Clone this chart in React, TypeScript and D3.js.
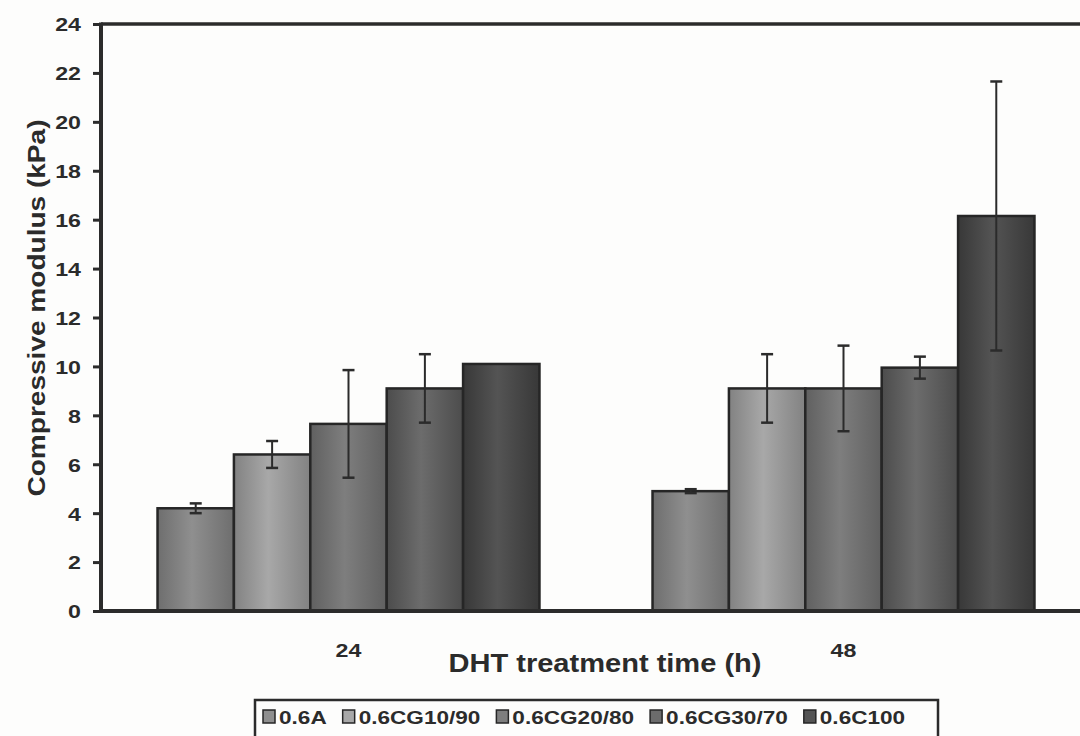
import { useEffect, useRef } from 'react';
import * as d3 from 'd3';

const categories = ['24', '48'];
const seriesNames = ['0.6A', '0.6CG10/90', '0.6CG20/80', '0.6CG30/70', '0.6C100'];
const values24 = [4.2, 6.4, 7.65, 9.1, 10.1];
const values48 = [4.9, 9.1, 9.1, 9.95, 16.15];
const errors24 = [0.2, 0.55, 2.2, 1.4, 0];
const errors48 = [0.08, 1.4, 1.75, 0.45, 5.5];
const yTicks = [0, 2, 4, 6, 8, 10, 12, 14, 16, 18, 20, 22, 24];
const edgeColors = ['#6e6e6e', '#828282', '#606060', '#4c4c4c', '#383838'];
const midColors = ['#8f8f8f', '#a8a8a8', '#7e7e7e', '#6c6c6c', '#545454'];

const FONT = '"Liberation Sans", Arial, sans-serif';
const INK = '#2b2b2b';

// the scanned figure's lettering is wider than Arial, stretch along the baseline
function widen(sel: any, factor: number) {
  sel.each(function (this: SVGTextElement) {
    const len = this.getComputedTextLength();
    d3.select(this).attr('textLength', len * factor).attr('lengthAdjust', 'spacingAndGlyphs');
  });
}

export default function App() {
  const svgRef = useRef<SVGSVGElement>(null);

  useEffect(() => {
    if (!svgRef.current) return;
    const svg = d3.select(svgRef.current);
    svg.selectAll('*').remove();

    const left = 101, top = 24, bottom = 611, right = 1091;

    const y = d3.scaleLinear().domain([0, 24]).range([bottom, top]);
    const x0 = d3.scaleBand().domain(categories).range([left, right]).padding(0);
    const x1 = d3.scaleBand().domain(seriesNames).range([0, x0.bandwidth()])
      .paddingInner(0).paddingOuter(0.74);

    const rows = categories.map((c, i) => ({
      cat: c,
      values: i === 0 ? values24 : values48,
      errors: i === 0 ? errors24 : errors48,
    }));

    const defs = svg.append('defs');
    seriesNames.forEach((s, i) => {
      const g = defs.append('linearGradient')
        .attr('id', `grad${i}`)
        .attr('x1', 0).attr('x2', 1).attr('y1', 0).attr('y2', 0);
      g.append('stop').attr('offset', '0%').attr('stop-color', edgeColors[i]);
      g.append('stop').attr('offset', '45%').attr('stop-color', midColors[i]);
      g.append('stop').attr('offset', '100%').attr('stop-color', edgeColors[i]);
    });

    svg.append('rect').attr('width', 1080).attr('height', 736).attr('fill', '#fdfdfc');

    // bars + error bars
    rows.forEach(r => {
      const g = svg.append('g').attr('transform', `translate(${x0(r.cat)},0)`);
      g.selectAll('rect.bar')
        .data(seriesNames)
        .enter()
        .append('rect')
        .attr('class', 'bar')
        .attr('x', s => x1(s)!)
        .attr('width', x1.bandwidth())
        .attr('y', (s, i) => y(r.values[i]))
        .attr('height', (s, i) => bottom - y(r.values[i]))
        .attr('fill', (s, i) => `url(#grad${i})`)
        .attr('stroke', '#262626')
        .attr('stroke-width', 2.5);

      seriesNames.forEach((s, i) => {
        const e = r.errors[i];
        if (!e) return;
        const cx = x1(s)! + x1.bandwidth() / 2;
        const hi = y(r.values[i] + e);
        const lo = y(r.values[i] - e);
        g.append('line').attr('x1', cx).attr('x2', cx).attr('y1', hi).attr('y2', lo)
          .attr('stroke', INK).attr('stroke-width', 2);
        [hi, lo].forEach(v => {
          g.append('line').attr('x1', cx - 6).attr('x2', cx + 6).attr('y1', v).attr('y2', v)
            .attr('stroke', INK).attr('stroke-width', 2.5);
        });
      });
    });

    // frame
    svg.append('line').attr('x1', left).attr('x2', right).attr('y1', top).attr('y2', top)
      .attr('stroke', INK).attr('stroke-width', 3.5);
    svg.append('line').attr('x1', left).attr('x2', right).attr('y1', bottom).attr('y2', bottom)
      .attr('stroke', INK).attr('stroke-width', 4);
    svg.append('line').attr('x1', left).attr('x2', left).attr('y1', top - 1.5).attr('y2', bottom + 2)
      .attr('stroke', INK).attr('stroke-width', 4);

    // y axis
    const yAxis = svg.append('g')
      .attr('transform', `translate(${left},0)`)
      .call(d3.axisLeft(y).tickValues(yTicks).tickSize(8).tickPadding(12).tickFormat(d3.format('d')));
    yAxis.select('.domain').remove();
    yAxis.selectAll('line').attr('stroke', INK).attr('stroke-width', 3);
    const tickText = yAxis.selectAll('text')
      .attr('fill', INK)
      .attr('dy', '0.36em')
      .style('font-family', FONT)
      .style('font-size', '19px')
      .style('font-weight', 'bold');
    widen(tickText, 1.22);

    // category labels
    const catText = svg.selectAll('text.cat')
      .data(categories)
      .enter()
      .append('text')
      .attr('class', 'cat')
      .attr('x', d => x0(d)! + x0.bandwidth() / 2)
      .attr('y', 657)
      .attr('text-anchor', 'middle')
      .attr('fill', INK)
      .style('font-family', FONT)
      .style('font-size', '19px')
      .style('font-weight', 'bold')
      .text(d => d);
    widen(catText, 1.22);

    // axis titles
    svg.append('text')
      .attr('x', 605)
      .attr('y', 672)
      .attr('text-anchor', 'middle')
      .attr('fill', INK)
      .attr('textLength', 313)
      .attr('lengthAdjust', 'spacingAndGlyphs')
      .style('font-family', FONT)
      .style('font-size', '26px')
      .style('font-weight', 'bold')
      .text('DHT treatment time (h)');

    svg.append('text')
      .attr('transform', `translate(45,308) rotate(-90)`)
      .attr('text-anchor', 'middle')
      .attr('fill', INK)
      .attr('textLength', 377)
      .attr('lengthAdjust', 'spacingAndGlyphs')
      .style('font-family', FONT)
      .style('font-size', '23px')
      .style('font-weight', 'bold')
      .text('Compressive modulus (kPa)');

    // legend
    const lg = svg.append('g');
    lg.append('rect')
      .attr('x', 255).attr('y', 700).attr('width', 683).attr('height', 40)
      .attr('fill', '#fdfdfc').attr('stroke', INK).attr('stroke-width', 2.5);
    let cursor = 263;
    seriesNames.forEach((s, i) => {
      lg.append('rect')
        .attr('x', cursor).attr('y', 710).attr('width', 12).attr('height', 13)
        .attr('fill', midColors[i]).attr('stroke', '#262626').attr('stroke-width', 1.5);
      const t = lg.append('text')
        .attr('x', cursor + 16).attr('y', 723.5)
        .attr('fill', INK)
        .style('font-family', FONT)
        .style('font-size', '18.5px')
        .style('font-weight', 'bold')
        .text(s);
      const w = (t.node() as SVGTextElement).getComputedTextLength() * 1.22;
      t.attr('textLength', w).attr('lengthAdjust', 'spacingAndGlyphs');
      cursor += 16 + w + 16;
    });
  }, []);

  return (
    <svg
      ref={svgRef}
      width={1080}
      height={736}
      style={{ position: 'absolute', left: 0, top: 0, display: 'block' }}
    />
  );
}
